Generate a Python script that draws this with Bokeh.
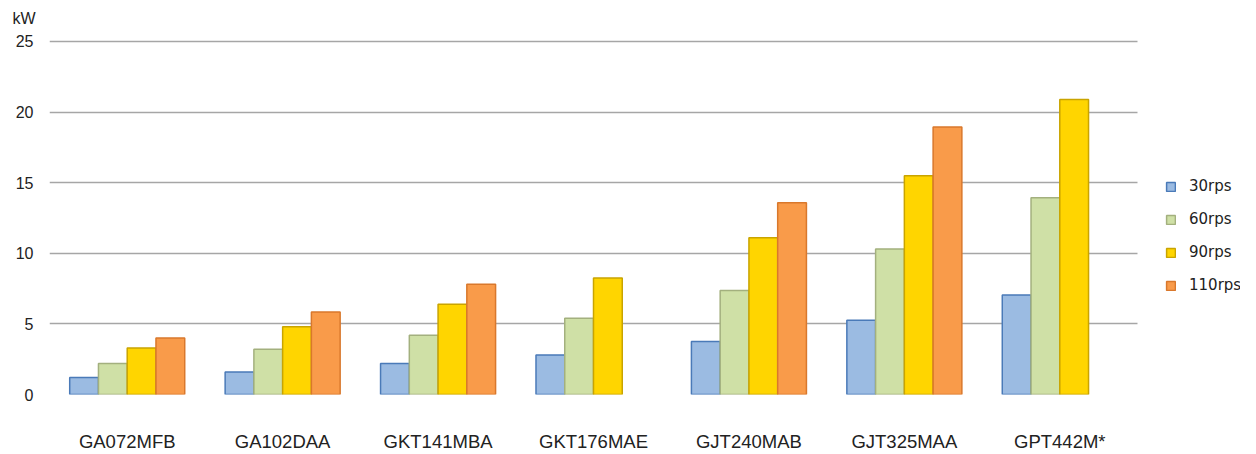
from bokeh.plotting import figure
from bokeh.models import Legend, LegendItem, Range1d, Title, FixedTicker
from bokeh.embed import file_html
from bokeh.resources import INLINE

models = ["GA072MFB", "GA102DAA", "GKT141MBA", "GKT176MAE", "GJT240MAB", "GJT325MAA", "GPT442M*"]
series = ["30rps", "60rps", "90rps", "110rps"]
v30 = [1.2, 1.6, 2.2, 2.8, 3.76, 5.25, 7.05]
v60 = [2.2, 3.2, 4.2, 5.4, 7.37, 10.3, 13.94]
v90 = [3.3, 4.8, 6.4, 8.25, 11.1, 15.5, 20.9]
v110 = [4.0, 5.85, 7.8, None, 13.58, 18.95, None]
y_ticks = [0, 5, 10, 15, 20, 25]

fills = ["#9BBBE2", "#CFE0A6", "#FFD500", "#F99B4A"]
edges = ["#4A7AB8", "#A3B07E", "#C9A400", "#D9782C"]

n = len(models)
centers = [i + 0.5 for i in range(n)]
# frame extends to the right edge so the legend can sit inside it
x_end = n * (1240 - 49) / 1088.0
# a little head-room above 25 so the top grid line is fully drawn
y_end = 25 + 7 / 14.16

p = figure(x_range=Range1d(0, x_end), y_range=Range1d(0, y_end), width=1240, height=454,
           output_backend="svg", toolbar_location=None,
           min_border_left=49, min_border_right=0, min_border_top=34, min_border_bottom=59)
p.outline_line_color = None
p.background_fill_color = "white"
p.border_fill_color = "white"

w = 0.185
offs = [-1.5 * w, -0.5 * w, 0.5 * w, 1.5 * w]
vals = [v30, v60, v90, v110]
renderers = []
for vs, off, fc, ec in zip(vals, offs, fills, edges):
    xs = [c + off for c, v in zip(centers, vs) if v is not None]
    tops = [v for v in vs if v is not None]
    r = p.vbar(x=xs, top=tops, bottom=0, width=w,
               fill_color=fc, line_color=ec, line_width=1.5)
    renderers.append(r)

legend = Legend(items=[LegendItem(label=s, renderers=[r]) for s, r in zip(series, renderers)],
                location=(1116, 99), orientation="vertical",
                glyph_width=11, glyph_height=11, label_height=20, spacing=13,
                label_standoff=13, padding=0, margin=0,
                label_text_font="DejaVu Sans", label_text_font_size="15px",
                label_text_color="#222222",
                border_line_color=None, background_fill_alpha=0)
p.add_layout(legend, "center")

p.yaxis.ticker = y_ticks
p.yaxis.axis_line_color = None
p.yaxis.major_tick_line_color = None
p.yaxis.minor_tick_line_color = None
p.yaxis.major_tick_out = 0
p.yaxis.major_tick_in = 0
p.yaxis.major_label_standoff = 16
p.yaxis.major_label_text_font = "Liberation Sans"
p.yaxis.major_label_text_font_size = "16px"
p.yaxis.major_label_text_color = "#222222"

p.xaxis.ticker = FixedTicker(ticks=centers)
p.xaxis.major_label_overrides = {c: m for c, m in zip(centers, models)}
p.xaxis.axis_line_color = None
p.xaxis.major_tick_line_color = None
p.xaxis.minor_tick_line_color = None
p.xaxis.major_tick_out = 0
p.xaxis.major_tick_in = 0
p.xaxis.major_label_standoff = 36
p.xaxis.major_label_text_font = "Liberation Sans"
p.xaxis.major_label_text_font_size = "18.5px"
p.xaxis.major_label_text_color = "#222222"

p.xgrid.grid_line_color = None
p.ygrid.grid_line_color = "#A6A6A6"
p.ygrid.grid_line_width = 1.5
p.ygrid.cross_bounds = (0, n)

title = Title(text="kW", align="left", offset=-37, standoff=12, vertical_align="top",
              text_font="Liberation Sans", text_font_size="16px",
              text_font_style="normal", text_color="#222222")
p.add_layout(title, "above")

open("out.html", "w").write(file_html(p, INLINE))
